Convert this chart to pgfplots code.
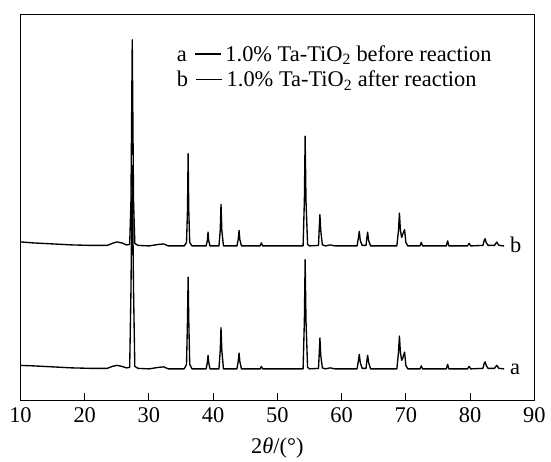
\documentclass[border=0pt]{standalone}
\usepackage{fontspec}
\setmainfont{Liberation Serif}
\usepackage{pgfplots}
\pgfplotsset{compat=1.18}

% XRD traces, y in picture units (0 = axis bottom)
\pgfplotstableread{
x y
10.0 158.5
12 157.5
15 156.5
18 155.5
21 155
23.5 155
24.3 157
25.0 158.5
25.8 157.5
26.5 155.5
27.0 156
27.2 200
27.4 360.7
27.6 200
27.8 157
28.3 155
30 154.5
31.5 156
32.3 156.5
33 154.5
35.5 154.5
35.85 158
36.0 190
36.1 246.7
36.2 190
36.35 158
36.7 154.5
38.9 154.5
39.1 160
39.2 168.3
39.3 160
39.5 154.5
40.9 154.5
41.1 170
41.22 196
41.35 170
41.6 154.5
43.7 154.5
43.9 161
44.03 170
44.15 161
44.4 154.5
47.3 154.5
47.5 157.5
47.7 154.5
54.0 154.5
54.2 200
54.32 264.3
54.45 200
54.7 156
55 154.5
56.4 155
56.5 170
56.62 185.7
56.75 170
57.0 155.5
57.5 154.5
58.2 155.5
59 154.5
62.4 154.5
62.6 162
62.75 169
62.9 160
63.2 155
63.8 155
63.9 161
64.05 168.3
64.2 160
64.5 154.5
68.6 154.5
68.85 170
69.0 187.3
69.15 170
69.35 163
69.5 166
69.8 170.7
70.0 158
70.3 154.5
72.2 154.5
72.4 158
72.6 154.5
76.3 154.5
76.5 159.5
76.7 154.5
79.6 154.5
79.85 157
80.1 154.5
82.0 155
82.2 160
82.35 161.7
82.5 158
82.8 155
83.8 155
84.15 158.3
84.5 155
85.3 154.5
}\traceb

\pgfplotstableread{
x y
10 35
12 34.5
15 33.5
18 32.5
21 32
23.5 32
24.3 34
25.0 35
25.8 34
26.5 32.5
27.0 33
27.2 110
27.4 235
27.6 110
27.8 34
28.3 32
30 31.5
31.5 33
32.3 33.5
33 31.5
35.5 31.5
35.85 36
36.0 80
36.1 123.3
36.2 80
36.35 36
36.7 31.5
38.9 31.5
39.1 38
39.2 45
39.3 38
39.5 31.5
40.9 31.5
41.1 50
41.22 72.7
41.35 50
41.6 31.5
43.7 31.5
43.9 39
44.03 47.3
44.15 39
44.4 31.5
47.3 31.5
47.5 34
47.7 31.5
54.0 31.5
54.2 80
54.32 140.7
54.45 80
54.7 33
55 31.5
56.4 32
56.5 45
56.62 62.3
56.75 45
57.0 32.5
57.5 31.5
58.2 32.5
59 31.5
62.4 31.5
62.6 39
62.75 46
62.9 38
63.2 32
63.8 32
63.9 38
64.05 45
64.2 38
64.5 31.5
68.6 31.5
68.85 48
69.0 64.3
69.15 48
69.35 40
69.5 42
69.8 48.3
70.0 35
70.3 31.5
72.2 31.5
72.4 34.5
72.6 31.5
76.3 31.5
76.5 36
76.7 31.5
79.6 31.5
79.85 34
80.1 31.5
82.0 32
82.2 37
82.35 38.5
82.5 35
82.8 32
83.8 32
84.15 35
84.5 32
85.3 31.5
}\tracea

\newcommand{\legfont}{\fontsize{22.5}{26}\selectfont}
\newcommand{\legdash}{\hspace{0.36em}\rule[0.3em]{1.18em}{1.5pt}\hspace{0.19em}}

\begin{document}
\begin{tikzpicture}
\begin{axis}[
  width=514bp, height=386bp, scale only axis,
  xmin=10, xmax=90, ymin=0, ymax=386,
  xtick={10,20,...,90}, ytick=\empty,
  xtick pos=bottom, tick align=inside,
  major tick length=7bp,
  axis line style={line width=1.1pt},
  tick style={line width=0.9pt, black},
  /pgf/number format/assume math mode=true,
  tick label style={font=\legfont},
  xticklabel style={yshift=-4bp},
  xlabel={2\textit{θ}/(°)},
  xlabel style={font=\legfont, at={(axis description cs:0.5,0)}, anchor=base, yshift=-53bp},
  clip=false,
]
\addplot[black, line width=1.35pt, line join=round] table {\traceb};
\addplot[black, line width=1.35pt, line join=round] table {\tracea};
\node[anchor=base west, inner sep=0, font=\legfont] at (axis cs:34.3,338.8) {a\legdash 1.0\% Ta-TiO\textsubscript{2} before reaction};
\node[anchor=base west, inner sep=0, font=\legfont] at (axis cs:34.3,313.5) {b\legdash 1.0\% Ta-TiO\textsubscript{2} after reaction};
\node[anchor=base west, inner sep=0, font=\legfont] at (axis cs:86.2,147.5) {b};
\node[anchor=base west, inner sep=0, font=\legfont] at (axis cs:86.2,25.5) {a};
\path (rel axis cs:0,0) ++(-20.5bp,-58.5bp) coordinate (bl);
\path (rel axis cs:1,1) ++(16.7bp,14.5bp) coordinate (tr);
\path[use as bounding box] (bl) rectangle (tr);
\end{axis}
\end{tikzpicture}
\end{document}
